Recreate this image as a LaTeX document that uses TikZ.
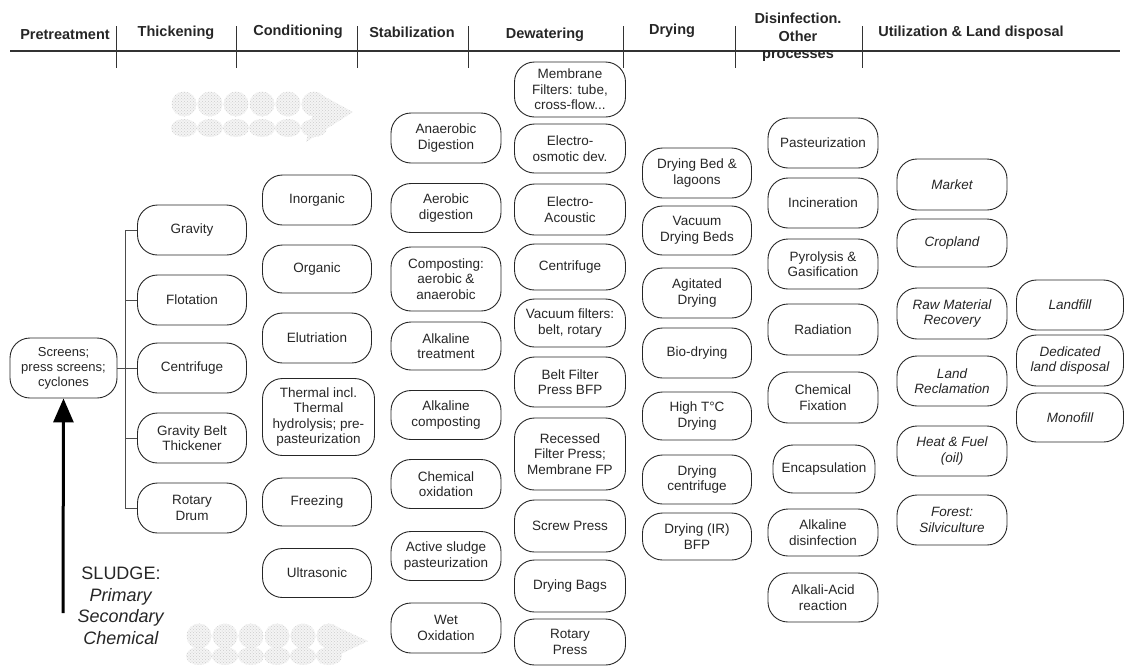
\documentclass[tikz,border=0pt]{standalone}
\usepackage{fontspec}
\setmainfont{Liberation Sans}
\usetikzlibrary{patterns,arrows.meta}
\begin{document}
\begin{tikzpicture}[x=1pt,y=-1pt,
  box/.style={draw=black!85, line width=0.9pt, rounded corners=20pt, minimum width=109pt, minimum height=50pt, align=center, inner sep=1pt, font=\fontsize{13.5}{15.5}\selectfont, text=black!85},
  ibox/.style={box, font=\fontsize{13.5}{15.5}\selectfont\itshape},
  hdr/.style={font=\fontsize{14.5}{17.5}\selectfont\bfseries, align=center, inner sep=0pt, text=black!85},
  sep/.style={line width=1pt, black!80},
  bus/.style={line width=0.9pt, black!70},
  hatch/.style={fill=gray!9, draw=none},
  hatchdots/.style={pattern=crosshatch dots, pattern color=gray!40, draw=none}
]
\useasboundingbox (0,0) rectangle (1126,667);

% ---- header ----
\draw[sep, line width=1.2pt] (10,51) -- (1120,51);
\foreach \x in {116,236,357,468,623,735,862} \draw[sep] (\x,26) -- (\x,68);
\node[hdr] (h1) at (65,35) {Pretreatment};
\node[hdr] (h2) at (176,33) {Thickening};
\node[hdr] (h3) at (298,32) {Conditioning};
\node[hdr] (h4) at (412,32) {Stabilization};
\node[hdr] (h5) at (545,35) {Dewatering};
\node[hdr] (h6) at (672,31) {Drying};
\node[hdr] (h7) at (798,37.5) {Disinfection.\\Other\\processes};
\node[hdr] (h8) at (971,33) {Utilization \& Land disposal};

% ---- hatched arrows ----
\foreach \dx/\yy/\yb in {0/104/128, 15/636/656} {
  \foreach \i in {0,...,5} {
    \fill[hatch] (184+\i*26+\dx,\yy) circle (12.5);
    \fill[hatch] (184+\i*26+\dx,\yb) ellipse (13 and 9);
    \fill[hatchdots] (184+\i*26+\dx,\yy) circle (12.5);
    \fill[hatchdots] (184+\i*26+\dx,\yb) ellipse (13 and 9);
  }
}
\fill[hatch] (318,93) -- (353,112) -- (306,142) -- cycle;
\fill[hatch] (333,625) -- (368,641) -- (320,664) -- cycle;
\fill[hatchdots] (318,93) -- (353,112) -- (306,142) -- cycle;
\fill[hatchdots] (333,625) -- (368,641) -- (320,664) -- cycle;

% ---- pretreatment ----
\node[box, minimum width=107pt, minimum height=60pt, font=\fontsize{13}{15}\selectfont] (scr) at (63.5,368) {Screens;\\press screens;\\cyclones};
\coordinate (sl) at (63,613);
\node[align=center, font=\fontsize{18}{21.5}\selectfont, text=black!85, inner sep=0pt] (sludge) at (121,606) {SLUDGE:\\\textit{Primary}\\\textit{Secondary}\\\textit{Chemical}};
\draw[line width=3pt, -{Triangle[length=24pt,width=20pt]}] (sl) -- (scr.south);

% ---- thickening ----
\node[box] (g1) at (192,230) {Gravity};
\node[box] (g2) at (192,300) {Flotation};
\node[box] (g3) at (192,368) {Centrifuge};
\node[box] (g4) at (192,438) {Gravity Belt\\Thickener};
\node[box] (g5) at (192,508) {Rotary\\Drum};
\draw[bus] (g1.west) -- ++(-12,0) |- (g5.west);
\draw[bus] (g2.west) -- ++(-12,0);
\draw[bus] (g4.west) -- ++(-12,0);
\draw[bus] (scr.east) -- (g3.west);

% ---- conditioning ----
\node[box] (c1) at (317,200) {Inorganic};
\node[box, minimum height=48pt] (c2) at (317,269) {Organic};
\node[box] (c3) at (317,338) {Elutriation};
\node[box, minimum width=112pt, minimum height=77pt] (c4) at (318.5,417) {Thermal incl.\\Thermal\\hydrolysis; pre-\\pasteurization};
\node[box, minimum height=48pt] (c5) at (317,502) {Freezing};
\node[box, minimum height=49pt] (c6) at (317,573) {Ultrasonic};

% ---- stabilization ----
\node[box, minimum width=110pt] (s1) at (446,138) {Anaerobic\\Digestion};
\node[box, minimum width=110pt, minimum height=49pt] (s2) at (446,208) {Aerobic\\digestion};
\node[box, minimum width=110pt, minimum height=64pt] (s3) at (446,279) {Composting:\\aerobic \&\\anaerobic};
\node[box, minimum width=110pt, minimum height=48pt] (s4) at (446,346) {Alkaline\\treatment};
\node[box, minimum width=110pt, minimum height=49pt] (s5) at (446,415) {Alkaline\\composting};
\node[box, minimum width=110pt, minimum height=49pt] (s6) at (446,484) {Chemical\\oxidation};
\node[box, minimum width=110pt, minimum height=49pt] (s7) at (446,556) {Active sludge\\pasteurization};
\node[box, minimum width=110pt] (s8) at (446,628) {Wet\\Oxidation};

% ---- dewatering ----
\node[box, minimum width=111pt, minimum height=55pt] (d1) at (570,89.5) {Membrane\\Filters: tube,\\cross-flow...};
\node[box, minimum width=111pt, minimum height=49pt] (d2) at (570,148.5) {Electro-\\osmotic dev.};
\node[box, minimum width=111pt, minimum height=51pt] (d3) at (570,209.5) {Electro-\\Acoustic};
\node[box, minimum width=111pt, minimum height=46pt] (d4) at (570,267) {Centrifuge};
\node[box, minimum width=111pt, minimum height=48pt] (d5) at (570,323) {Vacuum filters:\\belt, rotary};
\node[box, minimum width=111pt] (d6) at (570,382) {Belt Filter\\Press BFP};
\node[box, minimum width=111pt, minimum height=72pt] (d7) at (570,454) {Recessed\\Filter Press;\\Membrane FP};
\node[box, minimum width=111pt, minimum height=52pt] (d8) at (570,526) {Screw Press};
\node[box, minimum width=111pt, minimum height=52pt] (d9) at (570,586) {Drying Bags};
\node[box, minimum width=111pt, minimum height=46pt] (d10) at (570,642) {Rotary\\Press};

% ---- drying ----
\node[box] (y1) at (697,173) {Drying Bed \&\\lagoons};
\node[box, minimum height=49pt] (y2) at (697,230.5) {Vacuum\\Drying Beds};
\node[box] (y3) at (697,293) {Agitated\\Drying};
\node[box] (y4) at (697,353) {Bio-drying};
\node[box, minimum height=48pt] (y5) at (697,416) {High T°C\\Drying};
\node[box, minimum height=49pt] (y6) at (697,479.5) {Drying\\centrifuge};
\node[box, minimum height=47pt] (y7) at (697,536.5) {Drying (IR)\\BFP};

% ---- disinfection / other ----
\node[box, minimum width=110pt] (p1) at (823,143) {Pasteurization};
\node[box, minimum width=110pt] (p2) at (823,203) {Incineration};
\node[box, minimum width=110pt] (p3) at (823,264) {Pyrolysis \&\\Gasification};
\node[box, minimum width=110pt, minimum height=51pt] (p4) at (823,329.5) {Radiation};
\node[box, minimum width=110pt, minimum height=51pt] (p5) at (823,397.5) {Chemical\\Fixation};
\node[box, minimum width=102pt, minimum height=48pt] (p6) at (824,469) {Encapsulation};
\node[box, minimum width=110pt, minimum height=47pt] (p7) at (823,532.5) {Alkaline\\disinfection};
\node[box, minimum width=110pt, minimum height=49pt] (p8) at (823,597.5) {Alkali-Acid\\reaction};

% ---- utilization ----
\node[ibox, minimum width=110pt, minimum height=51pt] (u1) at (952,184.5) {Market};
\node[ibox, minimum width=110pt, minimum height=48pt] (u2) at (952,243) {Cropland};
\node[ibox, minimum width=110pt, minimum height=51pt] (u3) at (952,313.5) {Raw Material\\Recovery};
\node[ibox, minimum width=110pt] (u4) at (952,381) {Land\\Reclamation};
\node[ibox, minimum width=110pt] (u5) at (952,451) {Heat \& Fuel\\(oil)};
\node[ibox, minimum width=110pt] (u6) at (952,520) {Forest:\\Silviculture};

\node[ibox, minimum width=107pt] (v1) at (1070,305) {Landfill};
\node[ibox, minimum width=107pt, minimum height=51pt] (v2) at (1070,360.5) {Dedicated\\land disposal};
\node[ibox, minimum width=107pt, minimum height=49pt] (v3) at (1070,417.5) {Monofill};
\end{tikzpicture}
\end{document}
